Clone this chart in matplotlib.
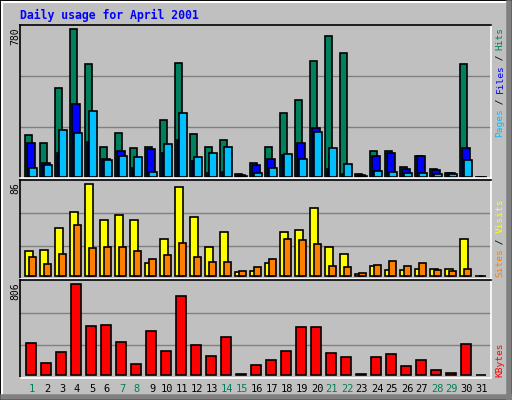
import matplotlib
matplotlib.use("Agg")
import matplotlib.pyplot as plt
from matplotlib.patches import Rectangle

days = list(range(1, 32))
hits = [220,178,469,780,596,157,232,152,157,300,600,226,157,195,15,74,157,337,405,611,743,653,15,137,137,52,110,42,21,596,0]
files = [178,74,126,385,184,95,137,47,147,126,195,84,21,26,10,63,95,116,179,258,42,15,8,110,126,42,110,37,21,152,0]
pages = [47,63,247,232,347,89,110,105,26,173,337,105,126,157,5,21,47,121,95,237,152,68,5,31,26,21,21,15,15,89,0]
visits = [23,24,45,60,86,52,57,52,12,35,83,55,27,41,4,5,12,41,43,64,27,21,2,9,6,6,7,7,7,35,0]
sites = [18,11,21,48,26,27,27,23,16,20,31,18,13,13,5,8,16,35,34,30,9,8,3,10,14,9,12,6,5,7,0]
kbytes = [283,106,204,806,434,443,292,97,390,213,700,266,168,337,9,89,133,213,425,425,195,159,9,159,186,80,133,44,18,275,0]
weekend = {1,7,8,14,15,21,22,28,29}

W, H = 512, 400
fig = plt.figure(figsize=(W/100, H/100), dpi=100, facecolor="#C0C0C0")
mono = "DejaVu Sans Mono"

# outer 3D frame
fig.patches.append(Rectangle((0, 0), 1, 1, transform=fig.transFigure, fill=False, ec="black", lw=1.5))
fig.add_artist(plt.Line2D([2/W, 2/W], [4/H, 1-2/H], color="white", lw=1.5, transform=fig.transFigure))
fig.add_artist(plt.Line2D([2/W, 1-4/W], [1-2/H, 1-2/H], color="white", lw=1.5, transform=fig.transFigure))
fig.add_artist(plt.Line2D([1-3/W, 1-3/W], [1/H, 1-3/H], color="#808080", lw=4, transform=fig.transFigure))
fig.add_artist(plt.Line2D([3/W, 1-1/W], [3/H, 3/H], color="#808080", lw=4, transform=fig.transFigure))

x0, x1 = 20, 491
def mkax(ytop, ybot):
    ax = fig.add_axes([x0/W, 1-ybot/H, (x1-x0)/W, (ybot-ytop)/H])
    ax.set_facecolor("#C0C0C0")
    ax.set_xlim(1-5/15, 1-5/15 + (x1-x0)/15)
    for y in (1/3, 2/3):
        ax.plot([0, 1], [y, y], color="#808080", lw=1, transform=ax.transAxes, zorder=0)
    ax.set_xticks([]); ax.set_yticks([])
    for s in ax.spines.values():
        s.set_color("black"); s.set_linewidth(1.2)
    ax.spines["right"].set_color("white"); ax.spines["bottom"].set_color("white")
    return ax

def bars(ax, vals, off, w, color):
    ax.bar([d+off for d in days], vals, width=w, align="edge", color=color, ec="black", lw=1.2, zorder=2)

ax1 = mkax(25, 178)
bars(ax1, hits, 0.0, 0.49, "#00805C")
bars(ax1, files, 0.16, 0.53, "#0000FF")
bars(ax1, pages, 0.29, 0.49, "#00C0FF")
ax1.set_ylim(-780*1/148, 780*152/148)

ax2 = mkax(180, 279)
bars(ax2, visits, 0.0, 0.55, "#FFFF00")
bars(ax2, sites, 0.29, 0.47, "#FF8000")
ax2.set_ylim(-86*3/92, 86*96/92)

ax3 = mkax(280, 378)
bars(ax3, kbytes, 0.09, 0.67, "#FF0000")
ax3.set_ylim(-806*3/91, 806*95/91)

def ft(x, y, s, **kw):
    fig.text(x/W, 1-y/H, s, family=mono, **kw)

ft(20, 15, "Daily usage for April 2001", color="#0000FF", fontsize=8.3, fontweight="bold", va="center")
ft(15, 27, "780", rotation=90, fontsize=7, va="top", ha="center")
ft(15, 182, "86", rotation=90, fontsize=7, va="top", ha="center")
ft(15, 282, "806", rotation=90, fontsize=7, va="top", ha="center")

for d in days:
    xc = x0 + (d - (1-5/15)) * 15 + 7
    ft(xc, 389, str(d), fontsize=7.5, ha="center", va="center",
       color="#00805C" if d in weekend else "black")

def vlabel(ybottom, pieces, step=5.45):
    pos = 0
    for s, c in pieces:
        ft(500, ybottom - pos*step, s, rotation=90, fontsize=6.8, va="bottom", ha="center", color=c)
        pos += len(s)

vlabel(137, [("Pages", "#00C0FF"), (" / ", "black"), ("Files", "#0000FF"), (" / ", "black"), ("Hits", "#00805C")])
vlabel(277, [("Sites", "#FF8000"), (" / ", "black"), ("Visits", "#FFFF00")])
vlabel(377, [("KBytes", "#FF0000")])

fig.savefig("out.png", dpi=100, facecolor=fig.get_facecolor())
